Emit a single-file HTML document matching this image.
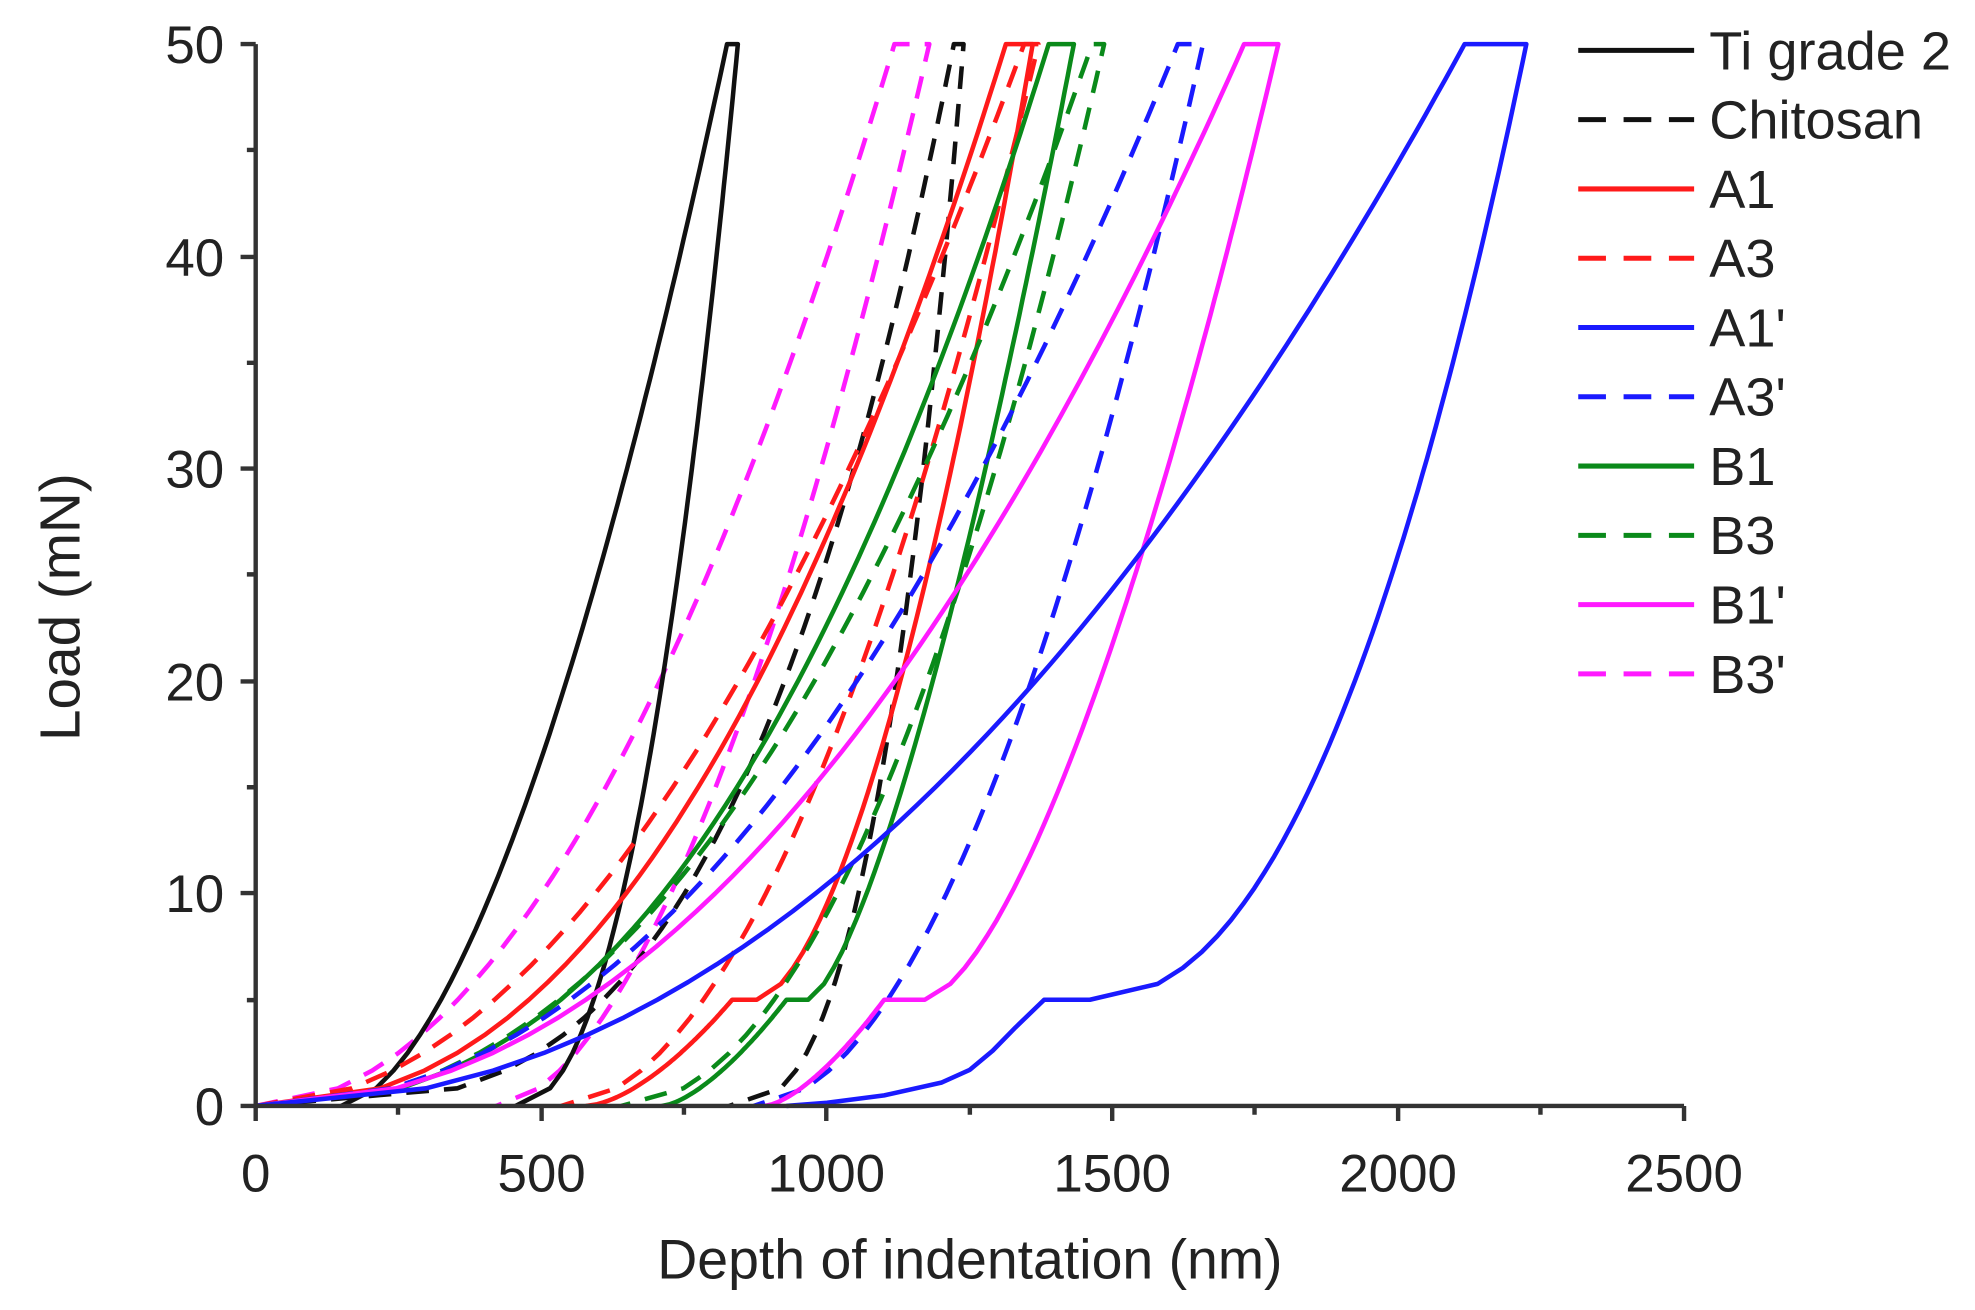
<!DOCTYPE html>
<html><head><meta charset="utf-8"><style>
html,body{margin:0;padding:0;background:#fff;}
svg{display:block;}
text{font-family:"Liberation Sans",sans-serif;fill:#222;}
</style></head><body>
<svg id="s" width="1975" height="1310" viewBox="0 0 1568 1040" preserveAspectRatio="none" xmlns="http://www.w3.org/2000/svg">
<g id="curves" fill="none" stroke-width="3.6" stroke-linejoin="round"></g>
<g stroke="#333" stroke-width="3.5" fill="none">
<path d="M203,35 V878 H1337"/>
<path d="M203,878v12 M316,878v7 M430,878v12 M543,878v7 M656,878v12 M770,878v7 M883,878v12 M996,878v7 M1110,878v12 M1223,878v7 M1337,878v12"/>
<path d="M203,878h-12 M203,794h-7 M203,709h-12 M203,625h-7 M203,541h-12 M203,456h-7 M203,372h-12 M203,288h-7 M203,204h-12 M203,119h-7 M203,35h-12"/>
</g>
<g font-size="42" text-anchor="middle">
<text x="203" y="946">0</text><text x="430" y="946">500</text><text x="656" y="946">1000</text>
<text x="883" y="946">1500</text><text x="1110" y="946">2000</text><text x="1337" y="946">2500</text>
</g>
<g font-size="42" text-anchor="end">
<text x="178" y="893">0</text><text x="178" y="724">10</text><text x="178" y="556">20</text>
<text x="178" y="387">30</text><text x="178" y="219">40</text><text x="178" y="50">50</text>
</g>
<text x="770" y="1015" font-size="44" text-anchor="middle">Depth of indentation (nm)</text>
<text transform="translate(63,482) rotate(-90)" font-size="45" text-anchor="middle">Load (mN)</text>
<g id="legend" stroke-width="4" font-size="43"></g>
</svg>
<script>
var X=function(d){return 203+0.4536*d;}, Y=function(L){return 878-16.86*L;};
function load(d0,dm,m){var p=[];for(var i=0;i<=60;i++){var L=50*i/60;p.push([d0+(dm-d0)*Math.pow(L/50,1/m),L]);}return p;}
function unl(dh,df,n,Lt,Lb){Lt=Lt||50;Lb=Lb||0;var p=[];for(var i=0;i<=60;i++){var L=Lt-(Lt-Lb)*i/60;var f=(L-Lb)/(Lt-Lb);p.push([df+(dh-df)*Math.pow(f,1/n),L]);}return p;}
function path(pts){return pts.map(function(q,i){return (i?'L':'M')+X(q[0]).toFixed(1)+','+Y(q[1]).toFixed(1);}).join(' ');}
function series(col,dash,d0,dm,m,dh,df,n,pl,pr,n2,lower){
 var a=load(d0,dm,m);a.push([dh,50]);
 if(pl){var u=unl(dh,pr,n,50,5);a=a.concat(u);a.push([pl,5]);
   if(lower)a=a.concat(lower);else a=a.concat(unl(pl,df,n2,5,0));}
 else a=a.concat(unl(dh,df,n));
 var e=document.createElementNS('http://www.w3.org/2000/svg','path');
 e.setAttribute('d',path(a));e.setAttribute('stroke',col);
 if(dash)e.setAttribute('stroke-dasharray','18 12');
 document.getElementById('curves').appendChild(e);}
var K='#111',R='#ff1a1a',B='#1a1aff',G='#0a8a1a',M='#ff1aff';
series(M,1,0,1118,2,1179,421,1.77);
series(K,0,150,825,1.7,844,455,2.2);
series(K,1,0,1222,3.3,1239,829,2.7);
series(R,1,0,1345,1.97,1370,535,1.9);
series(R,0,0,1313,2.28,1360,578,1.68,834,877,1.6);
series(G,1,0,1464,2.27,1485,640,2.0);
series(G,0,0,1388,2.41,1432,711,1.45,929,967,1.5);
series(B,1,0,1614,2.14,1658,872,1.9);
series(M,0,0,1730,2.1,1790,891,1.56,1100,1171,1.5);
series(B,0,0,2116,2.09,2224,929,2.2,1380,1460,1.5,[[1330,3.7],[1290,2.6],[1250,1.7],[1200,1.1],[1100,0.5],[1000,0.15],[929,0]]);
var leg=[['Ti grade 2',K,0],['Chitosan',K,1],['A1',R,0],['A3',R,1],["A1'",B,0],["A3'",B,1],['B1',G,0],['B3',G,1],["B1'",M,0],["B3'",M,1]];
var g=document.getElementById('legend'),ns='http://www.w3.org/2000/svg';
leg.forEach(function(l,i){var y=40+55*i;var ln=document.createElementNS(ns,'line');
 ln.setAttribute('x1',1253);ln.setAttribute('x2',1345);ln.setAttribute('y1',y);ln.setAttribute('y2',y);ln.setAttribute('stroke',l[1]);
 if(l[2])ln.setAttribute('stroke-dasharray','22 14');g.appendChild(ln);
 var t=document.createElementNS(ns,'text');t.setAttribute('x',1357);t.setAttribute('y',y+15);t.textContent=l[0];g.appendChild(t);});
</script>
</body></html>
